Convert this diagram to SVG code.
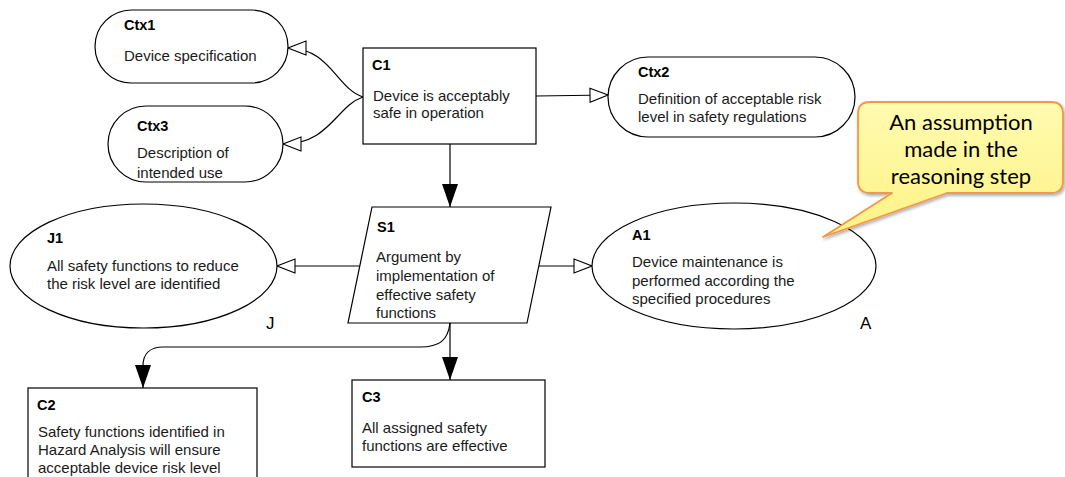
<svg xmlns="http://www.w3.org/2000/svg" width="1065" height="477" viewBox="0 0 1065 477">
<defs>
<style>
.n{fill:#fff;stroke:#000;stroke-width:1.2}
.id{font-family:"Liberation Sans",Arial,sans-serif;font-size:14.5px;font-weight:bold;fill:#000}
.t{font-family:"Liberation Sans",Arial,sans-serif;font-size:15px;fill:#1a1a1a}
.lbl{font-family:"Liberation Sans",Arial,sans-serif;font-size:17px;fill:#000}
.e{fill:none;stroke:#000;stroke-width:1.2}
.ct{font-family:Lato,"Open Sans",sans-serif;font-size:22px;fill:#000;text-anchor:middle}
</style>
<marker id="hollow" viewBox="0 0 20 16" refX="19" refY="8" markerWidth="20" markerHeight="16" markerUnits="userSpaceOnUse" orient="auto">
<path d="M1,1 L19,8 L1,15 Z" fill="#fff" stroke="#000" stroke-width="1.1"/>
</marker>
<marker id="solid" viewBox="0 0 24 18" refX="23" refY="9" markerWidth="24" markerHeight="18" markerUnits="userSpaceOnUse" orient="auto">
<path d="M0,1 L23,9 L0,17 Z" fill="#000"/>
</marker>
<linearGradient id="cg" x1="0" y1="0" x2="0" y2="1">
<stop offset="0" stop-color="#fffbb0"/>
<stop offset="1" stop-color="#fff285"/>
</linearGradient>
<filter id="sh" x="-10%" y="-10%" width="130%" height="140%">
<feDropShadow dx="1.5" dy="2" stdDeviation="1.5" flood-color="#000" flood-opacity="0.3"/>
</filter>
</defs>

<g id="connectors">
<path class="e" d="M363,97 C336,88 330,48 288,48" marker-end="url(#hollow)"/>
<path class="e" d="M363,97 C336,106 330,144 283,144" marker-end="url(#hollow)"/>
<path class="e" d="M536,96 L608,95" marker-end="url(#hollow)"/>
<path class="e" d="M450,144 L450,207" marker-end="url(#solid)"/>
<path class="e" d="M360,266 L277,266" marker-end="url(#hollow)"/>
<path class="e" d="M539,266 L592,266" marker-end="url(#hollow)"/>
<path class="e" d="M450,323 L450,380" marker-end="url(#solid)"/>
<path class="e" d="M450,323 C448,340 440,347 420,347 L163,347 C150,347 143,354 143,366 L143,388" marker-end="url(#solid)"/>
</g>

<g id="Ctx1">
<rect class="n" x="95" y="10" width="193" height="73" rx="36.5" ry="36.5"/>
<text class="id" x="124" y="30">Ctx1</text>
<text class="t" x="124" y="61">Device specification</text>
</g>

<g id="Ctx3">
<rect class="n" x="108" y="106" width="175" height="76" rx="38" ry="38"/>
<text class="id" x="137" y="131">Ctx3</text>
<text class="t" x="137" y="158">Description of</text>
<text class="t" x="137" y="178">intended use</text>
</g>

<g id="C1">
<rect class="n" x="363" y="48" width="173" height="96"/>
<text class="id" x="372" y="70">C1</text>
<text class="t" x="373" y="101">Device is acceptably</text>
<text class="t" x="373" y="118">safe in operation</text>
</g>

<g id="Ctx2">
<rect class="n" x="608" y="57" width="247" height="80" rx="40" ry="40"/>
<text class="id" x="638" y="77">Ctx2</text>
<text class="t" x="638" y="104">Definition of acceptable risk</text>
<text class="t" x="638" y="122">level in safety regulations</text>
</g>

<g id="S1">
<polygon class="n" points="372,207 551,207 527,323 348,323"/>
<text class="id" x="377" y="232">S1</text>
<text class="t" x="376" y="262">Argument by</text>
<text class="t" x="376" y="281">implementation of</text>
<text class="t" x="376" y="300">effective safety</text>
<text class="t" x="376" y="318">functions</text>
</g>

<g id="J1">
<ellipse class="n" cx="143.5" cy="266" rx="133.5" ry="62"/>
<text class="id" x="47" y="243">J1</text>
<text class="t" x="47" y="271">All safety functions to reduce</text>
<text class="t" x="47" y="289">the risk level are identified</text>
<text class="lbl" x="266" y="329">J</text>
</g>

<g id="A1">
<ellipse class="n" cx="734" cy="266" rx="142" ry="63"/>
<text class="id" x="632" y="240">A1</text>
<text class="t" x="632" y="267">Device maintenance is</text>
<text class="t" x="632" y="286">performed according the</text>
<text class="t" x="632" y="304">specified procedures</text>
<text class="lbl" x="860" y="329">A</text>
</g>

<g id="C2">
<rect class="n" x="28" y="388" width="229" height="100"/>
<text class="id" x="37" y="410">C2</text>
<text class="t" x="38" y="437">Safety functions identified in</text>
<text class="t" x="38" y="455">Hazard Analysis will ensure</text>
<text class="t" x="38" y="473">acceptable device risk level</text>
</g>

<g id="C3">
<rect class="n" x="352" y="380" width="193" height="87"/>
<text class="id" x="362" y="402">C3</text>
<text class="t" x="362" y="433">All assigned safety</text>
<text class="t" x="362" y="451">functions are effective</text>
</g>

<g id="callout">
<path d="M870,102 L1051,102 Q1063,102 1063,114 L1063,181 Q1063,193 1051,193 L947,193 L823,237 L892,193 L870,193 Q858,193 858,181 L858,114 Q858,102 870,102 Z" fill="url(#cg)" stroke="#f79646" stroke-width="1.8" stroke-linejoin="round" filter="url(#sh)"/>
<text class="ct" x="961" y="130">An assumption</text>
<text class="ct" x="961" y="157">made in the</text>
<text class="ct" x="961" y="184">reasoning step</text>
</g>
</svg>
